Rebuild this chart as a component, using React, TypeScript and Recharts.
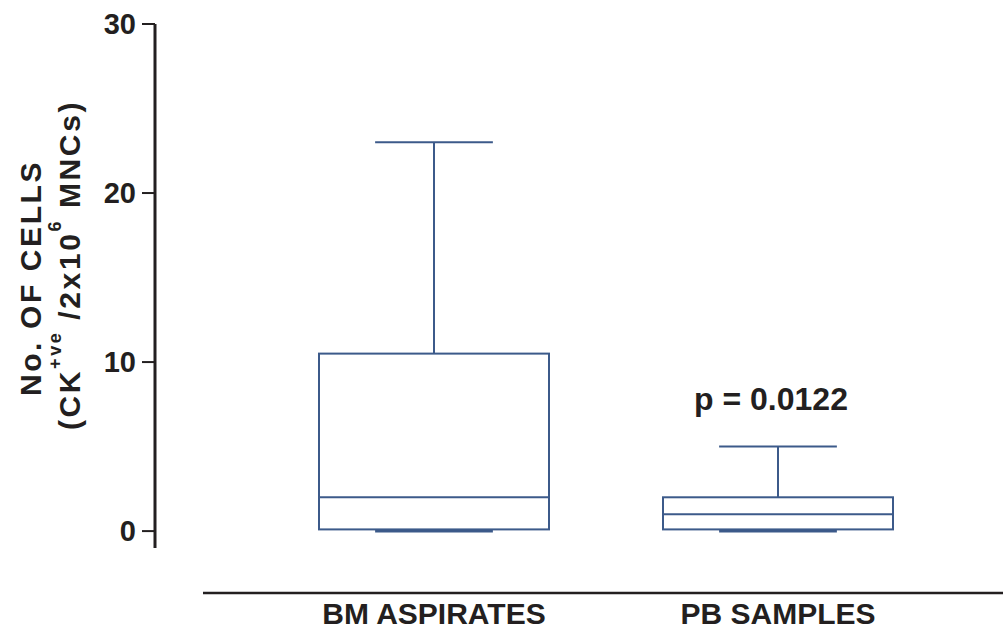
import {
  ComposedChart,
  Bar,
  XAxis,
  YAxis,
  ReferenceLine,
  ReferenceDot,
} from "recharts";

// Box plot summary per sample type
const groups = ["BM ASPIRATES", "PB SAMPLES"];
const minValues = [0, 0];
const q1Values = [0.1, 0.1];
const medianValues = [2, 1];
const q3Values = [10.5, 2];
const maxValues = [23, 5];
const yTicks = [0, 10, 20, 30];
const pValueText = "p = 0.0122";

const FONT = '"Liberation Sans", Arial, Helvetica, sans-serif';
const INK = "#231f20";
const BOX_COLOR = "#3c5a8a";

// baseline under the category labels, drawn below the value axis
const BASELINE_VALUE = -3.66;

const data = groups.map((name, i) => ({
  name,
  min: minValues[i],
  q1: q1Values[i],
  median: medianValues[i],
  q3: q3Values[i],
  max: maxValues[i],
}));

const BoxShape = (props: any) => {
  const { x, y, width, height, payload } = props;
  const top = Math.min(y, y + height);
  const h = Math.abs(height);
  const unit = h / (payload.q3 - payload.q1);
  const yOf = (v: number) => top + (payload.q3 - v) * unit;
  const cx = x + width / 2;
  const cap = width * 0.256;
  return (
    <g stroke={BOX_COLOR} strokeWidth={2} fill="none">
      <line x1={cx} x2={cx} y1={yOf(payload.max)} y2={top} />
      <line x1={cx - cap} x2={cx + cap} y1={yOf(payload.max)} y2={yOf(payload.max)} />
      <line x1={cx} x2={cx} y1={top + h} y2={yOf(payload.min)} />
      <line
        x1={cx - cap}
        x2={cx + cap}
        y1={yOf(payload.min)}
        y2={yOf(payload.min)}
        strokeWidth={3}
      />
      <rect x={x} y={top} width={width} height={h} />
      <line x1={x} x2={x + width} y1={yOf(payload.median)} y2={yOf(payload.median)} />
    </g>
  );
};

const CategoryTick = (props: any) => {
  const { x, y, payload } = props;
  return (
    <text
      x={x}
      y={y + 76}
      textAnchor="middle"
      fontFamily={FONT}
      fontSize={30}
      fontWeight={700}
      fill={INK}
    >
      {payload.value}
    </text>
  );
};

const AxisTitle = (props: any) => {
  const { viewBox } = props;
  const x1 = viewBox.x - 54;
  const x2 = viewBox.x - 15;
  const c1 = 278;
  const c2 = 265;
  const common = {
    textAnchor: "middle" as const,
    fontFamily: FONT,
    fontWeight: 700,
    fill: INK,
    letterSpacing: 2.6,
  };
  return (
    <g>
      <text x={x1} y={c1} transform={`rotate(-90, ${x1}, ${c1})`} fontSize={30} {...common}>
        No. OF CELLS
      </text>
      <text x={x2} y={c2} transform={`rotate(-90, ${x2}, ${c2})`} fontSize={30} {...common}>
        (CK
        <tspan fontSize={18} dy={-19}>+ve</tspan>
        <tspan dy={19}> /2x10</tspan>
        <tspan fontSize={18} dy={-19}>6</tspan>
        <tspan dy={19}> MNCs)</tspan>
      </text>
    </g>
  );
};

const PValueLabel = (props: any) => {
  const { viewBox } = props;
  return (
    <text
      x={viewBox.x + viewBox.width / 2 - 7}
      y={viewBox.y + viewBox.height / 2}
      dominantBaseline="central"
      textAnchor="middle"
      fontFamily={FONT}
      fontSize={32}
      fontWeight={700}
      fill={INK}
    >
      {pValueText}
    </text>
  );
};

export default function App() {
  return (
    <div style={{ position: "absolute", left: 0, top: 0, background: "#fff" }}>
      <ComposedChart
        width={1003}
        height={633}
        data={data}
        margin={{ top: 24, right: 0, bottom: 55, left: 95 }}
      >
        <XAxis
          dataKey="name"
          type="category"
          padding={{ left: 107, right: 53 }}
          axisLine={false}
          tickLine={false}
          tickSize={0}
          tickMargin={0}
          tick={<CategoryTick />}
          interval={0}
        />
        <XAxis xAxisId="frame" type="number" domain={[0, 1]} hide />
        <YAxis
          type="number"
          domain={[-1, 30]}
          ticks={yTicks}
          width={60}
          allowDataOverflow
          axisLine={{ stroke: INK, strokeWidth: 3 }}
          tickLine={{ stroke: INK, strokeWidth: 2 }}
          tickSize={13}
          tickMargin={6}
          tick={{ fontFamily: FONT, fontSize: 29, fontWeight: 700, fill: INK }}
          label={<AxisTitle />}
        />
        <ReferenceLine
          xAxisId="frame"
          segment={[
            { x: 0.0566, y: BASELINE_VALUE },
            { x: 1, y: BASELINE_VALUE },
          ]}
          ifOverflow="visible"
          stroke={INK}
          strokeWidth={2.5}
        />
        <Bar
          dataKey={(d: any) => [d.q1, d.q3]}
          barSize={230}
          shape={<BoxShape />}
          isAnimationActive={false}
        />
        <ReferenceDot
          x="PB SAMPLES"
          y={7.8}
          r={1}
          fill="none"
          stroke="none"
          ifOverflow="visible"
          label={<PValueLabel />}
        />
      </ComposedChart>
    </div>
  );
}
